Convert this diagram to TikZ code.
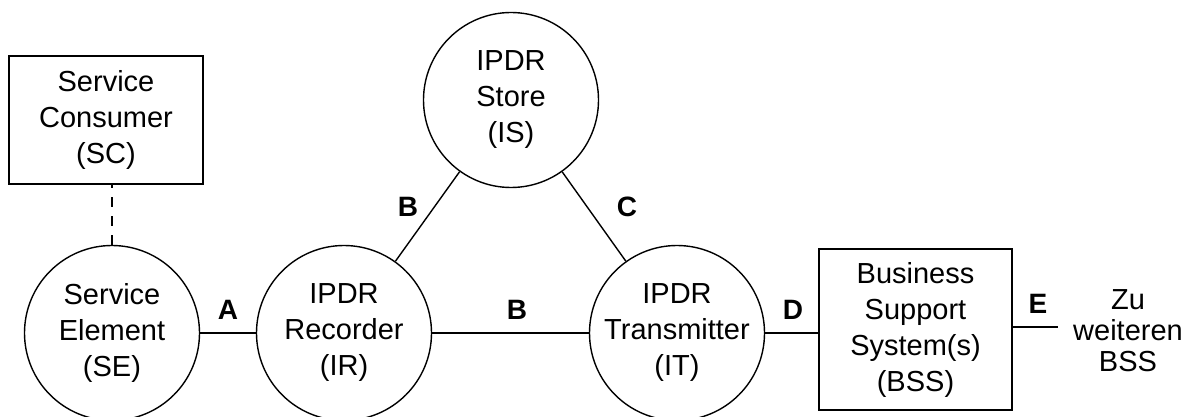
\documentclass[tikz,border=0pt]{standalone}
\usepackage{fontspec}
\setmainfont{Liberation Sans}
\begin{document}
\begin{tikzpicture}[x=1pt,y=-1pt,
  line width=1.4pt,
  txt/.style={align=center,font=\fontsize{29}{36}\selectfont},
  unit/.style={txt,draw,circle,minimum size=175pt,inner sep=0pt},
  box/.style={txt,draw,rectangle,inner sep=0pt},
  ifc/.style={font=\fontsize{28}{30}\selectfont\bfseries,inner sep=0pt},
  link/.style={line width=1.4pt},
  opt/.style={line width=1.4pt,dash pattern=on 10pt off 9pt}]
\useasboundingbox (0,0) rectangle (1192,417);

% components
\node[box,minimum width=194pt,minimum height=128pt] (SC) at (106,120) {Service\\Consumer\\(SC)};
\node[unit] (SE) at (112,333) {Service\\Element\\(SE)};
\node[unit] (IR) at (344,333) {IPDR\\Recorder\\(IR)};
\node[unit] (IS) at (511,100) {IPDR\\Store\\(IS)};
\node[unit] (IT) at (677,333) {IPDR\\Transmitter\\(IT)};
\node[box,minimum width=193pt,minimum height=161pt] (BSS) at (915.5,329.5) {Business\\Support\\System(s)\\(BSS)};
\node[align=center,font=\fontsize{29}{31}\selectfont,inner sep=0pt] (more) at (1128,331) {Zu\\weiteren\\BSS};
\coordinate (out) at (1058,327);

% interfaces
\draw[opt] (SE.north) -- (SE.north |- SC.south);
\draw[link] (SE) -- (IR);
\draw[link] (IR) -- (IS);
\draw[link] (IS) -- (IT);
\draw[link] (IR) -- (IT);
\draw[link] (IT.east) -- (IT.east -| BSS.west);
\draw[link] (out -| BSS.east) -- (out);

% interface labels
\node[ifc] (lA) at (228,310) {A};
\node[ifc] (lB1) at (408,207) {B};
\node[ifc] (lB2) at (517,310) {B};
\node[ifc] (lC) at (627,207) {C};
\node[ifc] (lD) at (793,310) {D};
\node[ifc] (lE) at (1038,304) {E};
\end{tikzpicture}
\end{document}
